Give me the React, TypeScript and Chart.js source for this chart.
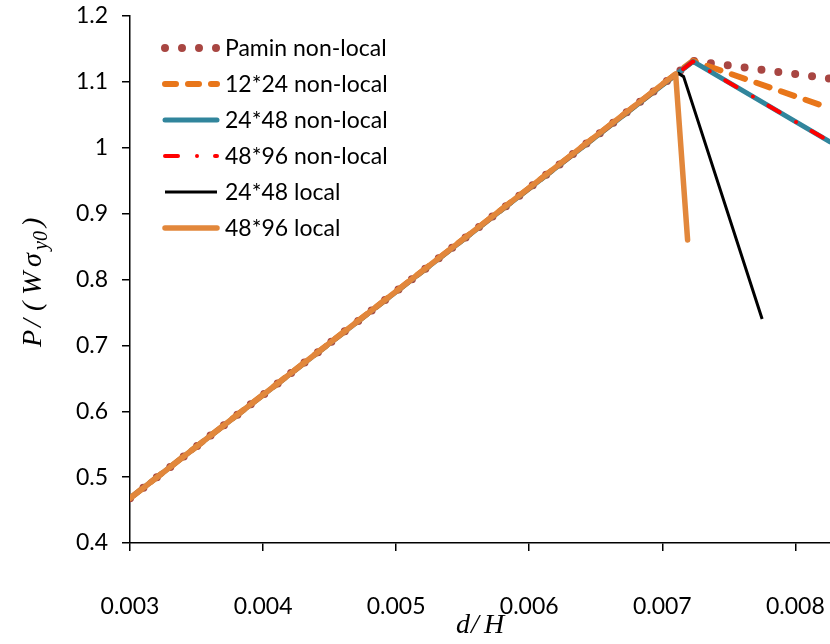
import React, { useEffect, useRef } from "react";
import { Chart, registerables } from "chart.js";

Chart.register(...registerables);

const seriesNames = [
  "Pamin non-local",
  "12*24 non-local",
  "24*48 non-local",
  "48*96 non-local",
  "24*48 local",
  "48*96 local",
];

const paminX = [0.003, 0.00723, 0.00826];
const paminY = [0.468, 1.132, 1.105];
const mesh12X = [0.003, 0.00723, 0.00826];
const mesh12Y = [0.468, 1.132, 1.06];
const mesh24X = [0.003, 0.00723, 0.00826];
const mesh24Y = [0.468, 1.131, 1.009];
const mesh48X = [0.003, 0.00723, 0.00826];
const mesh48Y = [0.468, 1.131, 1.009];
const local24X = [0.003, 0.00712, 0.00716, 0.00775];
const local24Y = [0.468, 1.113, 1.108, 0.74];
const local48X = [0.003, 0.0071, 0.00719];
const local48Y = [0.468, 1.112, 0.86];

const xTicks = [0.003, 0.004, 0.005, 0.006, 0.007, 0.008];
const xTickLabels = ["0.003", "0.004", "0.005", "0.006", "0.007", "0.008"];
const yTicks = [0.4, 0.5, 0.6, 0.7, 0.8, 0.9, 1.0, 1.1, 1.2];
const yTickLabels = ["0.4", "0.5", "0.6", "0.7", "0.8", "0.9", "1", "1.1", "1.2"];

const xMin = 0.003;
const xMax = 0.00826;
const yMin = 0.4;
const yMax = 1.2;

const toPoints = (xs: number[], ys: number[]) => xs.map((x, i) => ({ x, y: ys[i] }));

const FONT = "Lato";

const legendPlugin = {
  id: "customLegend",
  afterDraw(chart: any) {
    const ctx = chart.ctx;
    ctx.save();
    const x0 = 165;
    const x1 = 217;
    const textX = 225;
    const y0 = 48;
    const dy = 36;
    chart.data.datasets.forEach((ds: any, i: number) => {
      const y = y0 + i * dy;
      ctx.beginPath();
      ctx.strokeStyle = ds.borderColor;
      ctx.lineWidth = ds.borderWidth;
      ctx.lineCap = ds.borderCapStyle || "butt";
      ctx.setLineDash(ds.legendDash || ds.borderDash || []);
      ctx.moveTo(x0, y);
      ctx.lineTo(x1, y);
      ctx.stroke();
      ctx.setLineDash([]);
      ctx.fillStyle = "#000";
      ctx.font = `23px ${FONT}`;
      ctx.textBaseline = "middle";
      ctx.textAlign = "left";
      ctx.fillText(ds.label, textX, y + 1);
    });
    ctx.restore();
  },
};

const titlePlugin = {
  id: "customTitles",
  afterDraw(chart: any) {
    const ctx = chart.ctx;
    ctx.save();
    ctx.fillStyle = "#000";
    ctx.textAlign = "left";
    ctx.textBaseline = "alphabetic";
    const big = 'italic 28px "Liberation Serif"';
    const small = 'italic 20px "Liberation Serif"';
    // x-axis title: d/H
    ctx.font = big;
    ctx.fillText("d", 456, 633);
    ctx.fillText("/", 471, 633);
    ctx.fillText("H", 484, 633);
    // y-axis title: P/(Wσy0)
    ctx.translate(41, 347);
    ctx.rotate(-Math.PI / 2);
    ctx.font = big;
    ctx.fillText("P", 0, 0);
    ctx.fillText("/", 20, 0);
    ctx.fillText("(", 36, 0);
    ctx.fillText("W", 52, 0);
    ctx.fillText("σ", 80, 0);
    ctx.font = small;
    ctx.fillText("y0", 97, 6);
    ctx.font = big;
    ctx.fillText(")", 120, 0);
    ctx.restore();
  },
};

export default function App() {
  const canvasRef = useRef<HTMLCanvasElement | null>(null);

  useEffect(() => {
    document.body.style.margin = "0";
    const canvas = canvasRef.current;
    if (!canvas) return;

    const datasets: any[] = [
      {
        label: seriesNames[0],
        data: toPoints(paminX, paminY),
        borderColor: "#A84642",
        borderWidth: 8,
        borderDash: [0, 17],
        borderCapStyle: "round",
        legendDash: [0, 17],
        order: 6,
      },
      {
        label: seriesNames[1],
        data: toPoints(mesh12X, mesh12Y),
        borderColor: "#E8761A",
        borderWidth: 6,
        borderDash: [14, 12],
        borderCapStyle: "round",
        legendDash: [11, 12],
        order: 5,
      },
      {
        label: seriesNames[2],
        data: toPoints(mesh24X, mesh24Y),
        borderColor: "#31859C",
        borderWidth: 5,
        borderCapStyle: "round",
        order: 4,
      },
      {
        label: seriesNames[3],
        data: toPoints(mesh48X, mesh48Y),
        borderColor: "#FF0000",
        borderWidth: 4,
        borderDash: [13, 19, 0, 18],
        borderCapStyle: "round",
        order: 3,
      },
      {
        label: seriesNames[4],
        data: toPoints(local24X, local24Y),
        borderColor: "#000000",
        borderWidth: 3,
        borderCapStyle: "butt",
        order: 2,
      },
      {
        label: seriesNames[5],
        data: toPoints(local48X, local48Y),
        borderColor: "#E2873B",
        borderWidth: 5.5,
        borderCapStyle: "round",
        order: 1,
      },
    ];
    datasets.forEach((d) => {
      d.pointRadius = 0;
      d.pointHoverRadius = 0;
      d.fill = false;
      d.tension = 0;
      d.borderJoinStyle = "round";
    });

    const chart = new Chart(canvas, {
      type: "line",
      data: { datasets },
      options: {
        responsive: false,
        animation: false,
        events: [],
        layout: { padding: { top: 16, right: 0, left: 0, bottom: 0 } },
        plugins: {
          legend: { display: false },
          tooltip: { enabled: false },
          title: { display: false },
        },
        scales: {
          x: {
            type: "linear",
            min: xMin,
            max: xMax,
            afterBuildTicks: (scale: any) => {
              scale.ticks = xTicks.map((v) => ({ value: v }));
            },
            afterFit: (scale: any) => {
              scale.height = 101;
              scale.paddingLeft = 0;
              scale.paddingRight = 0;
            },
            border: { display: true, color: "#000", width: 1.5 },
            grid: {
              drawOnChartArea: false,
              drawTicks: true,
              tickLength: 8,
              color: "#000",
              lineWidth: 1.5,
            },
            ticks: {
              autoSkip: false,
              maxRotation: 0,
              padding: 42,
              color: "#000",
              font: { family: FONT, size: 23 },
              callback: (v: any) => {
                const i = xTicks.findIndex((t) => Math.abs(t - v) < 1e-9);
                return i >= 0 ? xTickLabels[i] : "";
              },
            },
          },
          y: {
            type: "linear",
            min: yMin,
            max: yMax,
            afterBuildTicks: (scale: any) => {
              scale.ticks = yTicks.map((v) => ({ value: v }));
            },
            afterFit: (scale: any) => {
              scale.width = 130;
              scale.paddingTop = 0;
              scale.paddingBottom = 0;
            },
            border: { display: true, color: "#000", width: 1.5 },
            grid: {
              drawOnChartArea: false,
              drawTicks: true,
              tickLength: 8,
              color: "#000",
              lineWidth: 1.5,
            },
            ticks: {
              autoSkip: false,
              padding: 14,
              color: "#000",
              font: { family: FONT, size: 23 },
              callback: (v: any) => {
                const i = yTicks.findIndex((t) => Math.abs(t - v) < 1e-9);
                return i >= 0 ? yTickLabels[i] : "";
              },
            },
          },
        },
      },
      plugins: [legendPlugin, titlePlugin],
    });

    return () => chart.destroy();
  }, []);

  return (
    <div style={{ width: 830, height: 644, background: "#fff" }}>
      <canvas ref={canvasRef} width={830} height={644} style={{ display: "block" }} />
    </div>
  );
}
